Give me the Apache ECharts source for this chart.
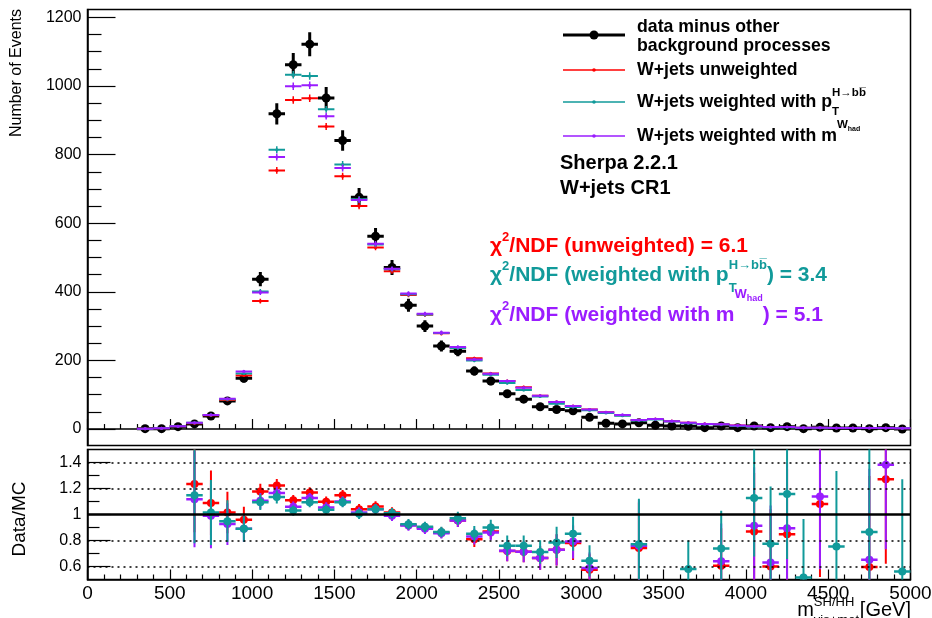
<!DOCTYPE html>
<html>
<head>
<meta charset="utf-8">
<script src="https://cdn.jsdelivr.net/npm/echarts@6/dist/echarts.min.js"></script>
<style>
  html, body { margin: 0; padding: 0; background: #fff; }
  #main { width: 932px; height: 618px; }
</style>
</head>
<body>
<div id="main"></div>
<script>
// bin centres of m_vis+met (GeV), bins are 100 GeV wide
const binWidth = 100;
const massBins = [350, 450, 550, 650, 750, 850, 950, 1050, 1150, 1250, 1350, 1450, 1550, 1650, 1750, 1850, 1950,
  2050, 2150, 2250, 2350, 2450, 2550, 2650, 2750, 2850, 2950, 3050, 3150, 3250, 3350, 3450, 3550, 3650, 3750, 3850, 3950,
  4050, 4150, 4250, 4350, 4450, 4550, 4650, 4750, 4850, 4950];

// top panel: events
const dataEvents = [1, 1, 7, 15, 38, 82, 148, 437, 919, 1062, 1122, 965, 841, 676, 562, 471, 361,
  300, 242, 227, 169, 140, 103, 87, 65, 57, 53, 34, 17, 15, 18, 11, 9, 8, 4, 9, 4,
  9, 4, 7, 1, 5, 3, 3, 1, 4, 0];
const dataErr = [1, 1, 3, 4, 6, 9, 12, 21, 31, 34, 35, 32, 30, 27, 24, 22, 19,
  17, 16, 15, 13, 12, 10, 9, 8, 8, 7, 6, 4, 4, 4, 3, 3, 3, 2, 3, 2,
  3, 2, 3, 1, 2, 2, 2, 1, 2, 1];
const mcUnweighted = [1, 2, 8, 17, 40, 85, 156, 373, 754, 959, 964, 882, 737, 650, 529, 460, 391,
  333, 279, 237, 206, 162, 140, 122, 97, 79, 67, 57, 49, 40, 26, 29, 23, 18, 15, 14, 10,
  8, 6, 6, 4, 4, 3, 3, 3, 3, 2];
const mcWeightedPt = [1, 2, 8, 18, 41, 87, 162, 401, 814, 1033, 1029, 932, 771, 670, 538, 466, 393,
  334, 280, 236, 200, 158, 134, 114, 95, 74, 64, 55, 47, 39, 25, 28, 22, 17, 14, 13, 9,
  7, 5, 5, 4, 4, 3, 3, 3, 3, 2];
const mcWeightedMw = [1, 2, 8, 18, 41, 88, 168, 398, 793, 999, 1002, 912, 761, 668, 540, 467, 395,
  336, 281, 239, 203, 161, 140, 120, 97, 79, 67, 57, 49, 41, 26, 29, 23, 18, 15, 14, 10,
  8, 6, 6, 4, 4, 3, 3, 3, 3, 2];
const mcErr = [0.5, 0.8, 1, 1.5, 2, 3, 4, 7, 10, 11, 11, 10, 10, 9, 8, 7, 7,
  6, 6, 5, 5, 4, 4, 4, 3, 3, 3, 3, 2.5, 2.5, 2, 2, 2, 2, 2, 2, 2,
  2, 2, 2, 2, 2, 2, 2, 2, 2, 2];

// bottom panel: Data/MC
const ratioUnweighted = [null, null, null, 1.234, 1.088, 1.015, 0.96,
  1.177, 1.223, 1.11, 1.169, 1.098, 1.149, 1.041, 1.062, 1.015, 0.92,
  0.90, 0.862, 0.954, 0.81, 0.87, 0.72, 0.713, 0.665, 0.728, 0.78,
  0.575, null, null, 0.742, null, null, null, null, 0.605, null,
  0.87, 0.6, 0.849, null, 1.08, null, null, 0.596, 1.272, null];
const ratioWeightedPt = [null, null, null, 1.149, 1.015, 0.949, 0.89,
  1.095, 1.134, 1.03, 1.095, 1.036, 1.095, 1.005, 1.041, 1.01, 0.925,
  0.905, 0.865, 0.972, 0.852, 0.9, 0.759, 0.759, 0.711, 0.785, 0.852,
  0.644, null, null, 0.772, null, null, 0.58, null, 0.738, null,
  1.126, 0.775, 1.157, 0.515, null, 0.754, null, 0.865, null, 0.562];
const ratioWeightedMw = [null, null, null, 1.118, 0.99, 0.926, 0.89,
  1.105, 1.165, 1.06, 1.126, 1.054, 1.10, 1.015, 1.04, 0.99, 0.915,
  0.89, 0.855, 0.954, 0.83, 0.862, 0.721, 0.713, 0.665, 0.728, 0.792,
  0.588, null, null, 0.76, null, null, null, null, 0.641, null,
  0.913, 0.63, 0.895, null, 1.138, null, null, 0.652, 1.382, null];
const ratioErr = [0, 0, 0, 0.37, 0.25, 0.16, 0.1,
  0.06, 0.05, 0.04, 0.04, 0.04, 0.04, 0.04, 0.04, 0.04, 0.04,
  0.04, 0.04, 0.05, 0.06, 0.06, 0.08, 0.08, 0.09, 0.12, 0.13,
  0.12, 0.2, 0.2, 0.35, 0.3, 0.3, 0.22, 0.3, 0.29, 0.4,
  0.45, 0.44, 0.5, 0.45, 0.56, 0.58, 0.6, 0.7, 0.65, 0.71];

// ticks
const yTicksTop = [0, 200, 400, 600, 800, 1000, 1200];
const yMinorTop = [-50, 50, 100, 150, 250, 300, 350, 450, 500, 550, 650, 700, 750, 850, 900, 950, 1050, 1100, 1150];
const yTicksRatio = [0.6, 0.8, 1, 1.2, 1.4];
const yMinorRatio = [0.7, 0.9, 1.1, 1.3];
const ratioGuides = [1.4, 1.2, 0.8, 0.6];

const RED = '#ff0000', TEAL = '#119a9a', PURPLE = '#9a1cff';
const FONT = '"Liberation Sans", Arial, Helvetica, sans-serif';

const ctx = document.createElement('canvas').getContext('2d');
function measure(t, fs, bold) {
  ctx.font = (bold ? 'bold ' : '') + fs + 'px ' + FONT;
  return ctx.measureText(t).width;
}
function label(x, y, t, fs, color, bold, extra) {
  return Object.assign({
    type: 'text', x: x, y: y, silent: true, z: 100,
    style: {
      text: t, fill: color, font: (bold ? 'bold ' : '') + fs + 'px ' + FONT,
      textAlign: 'left', textVerticalAlign: 'middle', align: 'left', verticalAlign: 'middle'
    }
  }, extra || {});
}
// text with sub/superscripts: parts [{t, fs, dy, stay}]
function rowWidth(parts, baseFs, bold) {
  let w = 0;
  parts.forEach(p => { if (!p.stay) w += measure(p.t, p.fs || baseFs, bold); });
  return w;
}
function richRow(x, y, parts, color, baseFs, bold) {
  let cx = x;
  const out = [];
  parts.forEach(p => {
    const fs = p.fs || baseFs;
    out.push(label(cx, y + (p.dy || 0), p.t, fs, color, bold));
    if (!p.stay) cx += measure(p.t, fs, bold);
  });
  return out;
}

function errorPoint(color, hw, vw, r) {
  return function (params, api) {
    const x = api.value(0), y = api.value(1), e = api.value(2);
    const c = api.coord([x, y]);
    const l = api.coord([x - binWidth / 2, y]);
    const rr = api.coord([x + binWidth / 2, y]);
    const t = api.coord([x, y + e]);
    const b = api.coord([x, y - e]);
    return {
      type: 'group',
      children: [
        { type: 'line', shape: { x1: l[0], y1: l[1], x2: rr[0], y2: rr[1] }, style: { stroke: color, lineWidth: hw } },
        { type: 'line', shape: { x1: t[0], y1: t[1], x2: b[0], y2: b[1] }, style: { stroke: color, lineWidth: vw } },
        { type: 'circle', shape: { cx: c[0], cy: c[1], r: r }, style: { fill: color } }
      ]
    };
  };
}
function points(vals, errs) {
  return massBins.map((m, i) => [m, vals[i], errs[i]]).filter(d => d[1] != null);
}
function errSeries(name, xi, yi, vals, errs, color, hw, vw, r) {
  return {
    name: name, type: 'custom', xAxisIndex: xi, yAxisIndex: yi, clip: true,
    renderItem: errorPoint(color, hw, vw, r), encode: { x: 0, y: 1 },
    data: points(vals, errs)
  };
}

const tickStyle = { color: '#000', width: 1.2 };
const plain = v => String(v);
function xAxisFor(gi, labels) {
  return {
    gridIndex: gi, type: 'value', min: 0, max: 5000, interval: 500,
    axisLine: { lineStyle: { color: '#000', width: 1.5 } },
    axisTick: { inside: true, length: 10, lineStyle: tickStyle },
    minorTick: { show: true, splitNumber: 5, length: 5, lineStyle: tickStyle },
    splitLine: { show: false },
    axisLabel: { show: labels, formatter: plain, fontSize: 19, color: '#000', fontFamily: FONT, margin: 5, showMinLabel: true, showMaxLabel: true, hideOverlap: false }
  };
}
function yAxisFor(gi, min, max, ticks, len, labels) {
  return {
    gridIndex: gi, type: 'value', min: min, max: max, position: 'left',
    axisLine: { show: labels, lineStyle: { color: '#000', width: 1.5 } },
    axisTick: { show: true, inside: true, length: len, customValues: ticks, lineStyle: tickStyle },
    splitLine: { show: false },
    axisLabel: labels
      ? { show: true, customValues: ticks, formatter: plain, fontSize: 16, color: '#000', fontFamily: FONT, margin: 6 }
      : { show: false }
  };
}

const chart = echarts.init(document.getElementById('main'), null, { renderer: 'canvas' });

const graphics = [];
// axis titles
graphics.push(label(17, 9, 'Number of Events', 16, '#000', false,
  { rotation: Math.PI / 2, style: { text: 'Number of Events', fill: '#000', font: '16px ' + FONT, textAlign: 'right', textVerticalAlign: 'middle', align: 'right', verticalAlign: 'middle' } }));
graphics.push(label(20, 519, 'Data/MC', 19, '#000', false,
  { rotation: Math.PI / 2, style: { text: 'Data/MC', fill: '#000', font: '19px ' + FONT, textAlign: 'center', textVerticalAlign: 'middle', align: 'center', verticalAlign: 'middle' } }));
const xTitle = [{ t: 'm' }, { t: 'vis+met', fs: 13, dy: 10, stay: true }, { t: 'SH/HH', fs: 13, dy: -8 }, { t: ' [GeV]' }];
graphics.push(...richRow(911 - rowWidth(xTitle, 20, false), 610, xTitle, '#000', 20, false));

// legend
const legendRows = [
  { y: 35, color: '#000', w: 3, r: 4.5 },
  { y: 70, color: RED, w: 1.5, r: 1.8 },
  { y: 102, color: TEAL, w: 1.5, r: 1.8 },
  { y: 136, color: PURPLE, w: 1.5, r: 1.8 }
];
legendRows.forEach(l => {
  graphics.push({ type: 'line', silent: true, z: 100, shape: { x1: 563, y1: l.y, x2: 625, y2: l.y }, style: { stroke: l.color, lineWidth: l.w } });
  graphics.push({ type: 'circle', silent: true, z: 100, shape: { cx: 594, cy: l.y, r: l.r }, style: { fill: l.color } });
});
graphics.push(label(637, 27, 'data minus other', 17.7, '#000', true));
graphics.push(label(637, 46, 'background processes', 17.7, '#000', true));
graphics.push(label(637, 70, 'W+jets unweighted', 17.7, '#000', true));
graphics.push(...richRow(637, 102, [{ t: 'W+jets weighted with p' }, { t: 'T', fs: 11.5, dy: 10, stay: true }, { t: 'H\u2192bb\u0305', fs: 11.5, dy: -9 }], '#000', 17.7, true));
graphics.push(...richRow(637, 136, [{ t: 'W+jets weighted with m' }, { t: 'W', fs: 11.5, dy: -11 }, { t: 'had', fs: 7, dy: -7 }], '#000', 17.7, true));
graphics.push(label(560, 163, 'Sherpa 2.2.1', 20, '#000', true));
graphics.push(label(560, 188, 'W+jets CR1', 20, '#000', true));

// chi2 texts
graphics.push(...richRow(490, 246, [{ t: '\u03c7' }, { t: '2', fs: 13, dy: -9 }, { t: '/NDF (unweighted) = 6.1' }], RED, 21, true));
graphics.push(...richRow(490, 275, [{ t: '\u03c7' }, { t: '2', fs: 13, dy: -9 }, { t: '/NDF (weighted with p' },
  { t: 'T', fs: 13, dy: 13, stay: true }, { t: 'H\u2192bb\u0305', fs: 13, dy: -10 }, { t: ') = 3.4' }], TEAL, 21, true));
graphics.push(...richRow(490, 315, [{ t: '\u03c7' }, { t: '2', fs: 13, dy: -9 }, { t: '/NDF (weighted with m' },
  { t: 'W', fs: 13, dy: -21 }, { t: 'had', fs: 9, dy: -16 }, { t: ') = 5.1' }], PURPLE, 21, true));

const option = {
  animation: false,
  backgroundColor: '#fff',
  grid: [
    { left: 87.5, right: 21.5, top: 9.5, height: 436, outerBoundsMode: 'none', containLabel: false, show: true, borderColor: '#000', borderWidth: 1.5, backgroundColor: 'transparent' },
    { left: 87.5, right: 21.5, top: 449.5, height: 130, outerBoundsMode: 'none', containLabel: false, show: true, borderColor: '#000', borderWidth: 1.5, backgroundColor: 'transparent' }
  ],
  xAxis: [xAxisFor(0, false), xAxisFor(1, true)],
  yAxis: [
    yAxisFor(0, -48, 1223, yTicksTop, 28, true),
    yAxisFor(0, -48, 1223, yMinorTop, 14, false),
    yAxisFor(1, 0.5, 1.5, yTicksRatio, 23, true),
    yAxisFor(1, 0.5, 1.5, yMinorRatio, 12, false)
  ],
  graphic: graphics,
  series: [
    errSeries('data', 0, 0, dataEvents, dataErr, '#000', 3, 3, 4.5),
    errSeries('W+jets unweighted', 0, 0, mcUnweighted, mcErr, RED, 2, 1.5, 1.6),
    errSeries('W+jets weighted pT', 0, 0, mcWeightedPt, mcErr, TEAL, 2, 1.5, 1.6),
    errSeries('W+jets weighted mW', 0, 0, mcWeightedMw, mcErr, PURPLE, 2, 1.5, 1.6),
    {
      name: 'guides', type: 'line', xAxisIndex: 1, yAxisIndex: 2, data: [], silent: true,
      markLine: {
        silent: true, symbol: 'none', label: { show: false }, animation: false,
        data: ratioGuides.map(v => ({ yAxis: v, lineStyle: { color: '#000', width: 1.5, type: [2, 4] } }))
          .concat([{ yAxis: 1, lineStyle: { color: '#000', width: 2.5, type: 'solid' } }])
      }
    },
    errSeries('ratio unweighted', 1, 2, ratioUnweighted, ratioErr, RED, 2.5, 2, 4),
    errSeries('ratio weighted mW', 1, 2, ratioWeightedMw, ratioErr, PURPLE, 2.5, 2, 4),
    errSeries('ratio weighted pT', 1, 2, ratioWeightedPt, ratioErr, TEAL, 2.5, 2, 4)
  ]
};
chart.setOption(option);
</script>
</body>
</html>
